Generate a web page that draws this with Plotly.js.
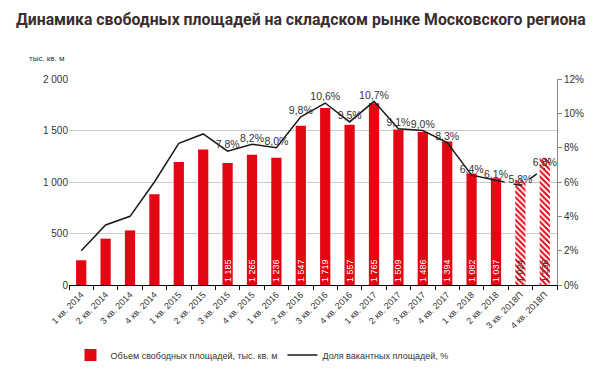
<!DOCTYPE html>
<html>
<head>
<meta charset="utf-8">
<script src="https://cdn.plot.ly/plotly-3.0.1.min.js"></script>
<style>html,body{margin:0;padding:0;background:#fff;}#chart{width:612px;height:373px;}</style>
</head>
<body>
<div id="chart"></div>
<script>
const categories = ["1 кв. 2014","2 кв. 2014","3 кв. 2014","4 кв. 2014","1 кв. 2015","2 кв. 2015","3 кв. 2015","4 кв. 2015","1 кв. 2016","2 кв. 2016","3 кв. 2016","4 кв. 2016","1 кв. 2017","2 кв. 2017","3 кв. 2017","4 кв. 2017","1 кв. 2018","2 кв. 2018","3 кв. 2018П","4 кв. 2018П"];
const volume = [240,450,530,880,1195,1315,1185,1265,1236,1547,1719,1557,1765,1509,1486,1394,1082,1037,1024,1236];
const volumeLabels = ["","","","","","","1 185","1 265","1 236","1 547","1 719","1 557","1 765","1 509","1 486","1 394","1 082","1 037","1 024","1 236"];
const vacancy = [2.0,3.5,4.0,6.0,8.25,8.8,7.8,8.2,8.0,9.8,10.6,9.5,10.7,9.1,9.0,8.3,6.4,6.1,5.8,6.8];
const vacancyLabels = ["","","","","","","7,8%","8,2%","8,0%","9,8%","10,6%","9,5%","10,7%","9,1%","9,0%","8,3%","6,4%","6,1%","5,8%","6,8%"];
const forecastFrom = 18;

const red = "#e30613";
const FONT = "Liberation Sans, Arial, sans-serif";

const actualTrace = {
  type: "bar", x: categories.slice(0, forecastFrom), y: volume.slice(0, forecastFrom),
  name: "Объем свободных площадей, тыс. кв. м",
  marker: {color: red, line: {width: 0}},
  text: volumeLabels.slice(0, forecastFrom), textposition: "inside", insidetextanchor: "start", textangle: -90,
  constraintext: "none",
  textfont: {family: FONT, size: 9, color: "#ffffff"},
  hoverinfo: "skip"
};
const forecastTrace = {
  type: "bar", x: categories.slice(forecastFrom), y: volume.slice(forecastFrom),
  showlegend: false,
  marker: {color: red, line: {width: 0},
    pattern: {shape: "\\", fgcolor: red, bgcolor: "#ffffff", fillmode: "replace", size: 4, solidity: 0.5}},
  text: volumeLabels.slice(forecastFrom), textposition: "inside", insidetextanchor: "start", textangle: -90,
  constraintext: "none",
  textfont: {family: FONT, size: 9, color: "#333333"},
  hoverinfo: "skip"
};

const lineTrace = {
  type: "scatter", mode: "lines+text", x: categories.slice(0, forecastFrom), y: vacancy.slice(0, forecastFrom), yaxis: "y2",
  name: "Доля вакантных площадей, %",
  line: {color: "#1a1a1a", width: 1.5},
  text: vacancyLabels.slice(0, forecastFrom), textposition: "top center",
  textfont: {family: FONT, size: 10.5, color: "#333333"},
  cliponaxis: false
};
const dashTrace = {
  type: "scatter", mode: "lines+text", x: categories.slice(forecastFrom-1), y: vacancy.slice(forecastFrom-1), yaxis: "y2",
  showlegend: false,
  line: {color: "#1a1a1a", width: 1.5, dash: "dash"},
  text: ["", ...vacancyLabels.slice(forecastFrom)], textposition: "top center",
  textfont: {family: FONT, size: 10.5, color: "#333333"},
  cliponaxis: false
};

const layout = {
  width: 612, height: 373,
  margin: {l: 69, r: 55, t: 79, b: 88},
  paper_bgcolor: "#ffffff", plot_bgcolor: "#ffffff",
  font: {family: FONT, size: 10, color: "#333333"},
  title: {
    text: "<b>Динамика свободных площадей на складском рынке Московского региона</b>",
    xref: "container", yref: "container", x: 16/612, xanchor: "left", y: 1 - 19/373, yanchor: "middle",
    font: {family: "Roboto, Liberation Sans, sans-serif", size: 15.8, color: "#3a2d2d"}, automargin: false
  },
  showlegend: true,
  barmode: "overlay",
  legend: {orientation: "h", xref: "container", x: 262/612, xanchor: "center",
    yref: "container", y: (373-355)/373, yanchor: "middle",
    font: {size: 9, color: "#333333"}, traceorder: "normal", itemwidth: 30},
  bargap: 0.58,
  xaxis: {
    type: "category", categoryorder: "array", categoryarray: categories,
    range: [-0.5, categories.length - 0.5], autorange: false,
    tickangle: -45, tickfont: {size: 9, color: "#333333"}, automargin: false,
    showline: true, linecolor: "#000000", linewidth: 1,
    ticks: "outside", ticklen: 4, tickcolor: "#000000", tickson: "boundaries",
    showgrid: false, zeroline: false
  },
  yaxis: {
    range: [0, 2000], tickvals: [0,500,1000,1500,2000], ticktext: ["0","500","1 000","1 500","2 000"],
    showgrid: true, gridcolor: "#cccccc", gridwidth: 1, zeroline: false, automargin: false,
    showline: false, ticks: "", tickfont: {size: 10, color: "#333333"}
  },
  yaxis2: {
    overlaying: "y", side: "right", range: [0, 12], tickvals: [0,2,4,6,8,10,12],
    ticktext: ["0%","2%","4%","6%","8%","10%","12%"], automargin: false,
    showgrid: false, zeroline: false, showline: true, linecolor: "#888888",
    ticks: "outside", ticklen: 4, tickcolor: "#888888", tickfont: {size: 10, color: "#333333"}
  },
  annotations: [
    {text: "тыс. кв. м", xref: "paper", yref: "paper", x: -69/488, xanchor: "left", xshift: 27,
     y: 1 + (79-58)/206, yanchor: "middle", showarrow: false, font: {size: 8, color: "#333333"}}
  ]
};

Plotly.newPlot("chart", [actualTrace, forecastTrace, lineTrace, dashTrace], layout, {displayModeBar: false, staticPlot: true});
</script>
</body>
</html>
